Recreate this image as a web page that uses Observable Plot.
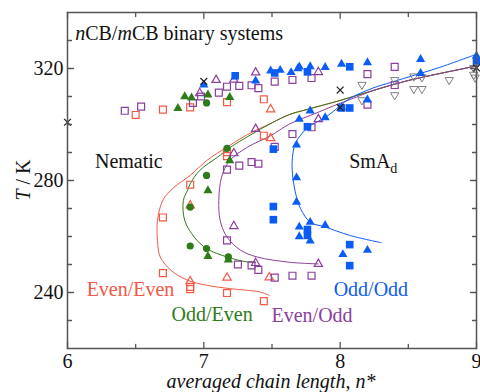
<!DOCTYPE html>
<html><head><meta charset="utf-8">
<script src="https://cdn.jsdelivr.net/npm/d3@7"></script>
<script src="https://cdn.jsdelivr.net/npm/@observablehq/plot@0.6"></script>
<style>body{margin:0;background:#fff}</style>
</head><body><div id="chart"></div>
<script>
// axes
const xDomain = [6, 9];
const yDomain = [220, 340];
const xMajor = [6, 7, 8, 9];
const xMinor = [6.5, 7.5, 8.5];
const yMajor = [240, 280, 320];
const yMinor = [230, 250, 260, 270, 290, 300, 310, 330];

// Even/Even (red)
const eeSquares = [[6.50,303.4],[6.70,305.3],[6.90,306.1],[7.17,308.0],[7.44,309.0],[7.17,290.1],[7.17,288.7],[7.44,296.0],[6.90,278.5],[6.70,266.8],[6.70,246.9],[6.90,242.0],[6.90,241.2],[7.17,239.8],[7.44,236.9]];
const eeTriangles = [[7.49,305.4],[7.49,295.1],[6.90,271.1],[6.90,244.0],[7.17,245.3],[7.48,245.4]];
// Odd/Even (green)
const oeCircles = [[7.02,307.7],[7.17,291.5],[7.02,281.8],[6.90,270.5],[6.90,256.6],[7.02,255.7],[7.18,252.7]];
const oeTriangles = [[6.81,305.8],[6.86,310.0],[6.91,309.5],[7.03,310.6],[7.19,309.7],[7.19,287.1],[7.03,276.4],[7.03,252.9],[7.18,251.7]];
// Even/Odd (purple)
const eoSquares = [[6.42,304.9],[6.54,306.4],[6.92,307.7],[6.98,310.0],[7.11,311.4],[7.17,313.5],[7.26,313.8],[7.35,314.0],[7.40,313.0],[7.52,315.3],[7.65,315.9],[7.79,316.6],[8.20,318.0],[8.40,320.6],[8.40,314.1],[8.20,307.1],[7.79,299.0],[7.65,296.6],[7.52,292.0],[7.35,286.6],[7.40,286.0],[7.26,285.3],[7.17,283.9],[7.17,258.6],[7.25,250.0],[7.35,249.7],[7.40,248.1],[7.52,245.3],[7.65,246.0],[7.79,246.0]];
const eoTriangles = [[6.97,311.2],[7.09,315.9],[7.22,316.0],[7.38,318.6],[7.84,318.7],[7.38,298.4],[7.22,289.7],[7.22,263.7],[7.38,250.5],[7.84,250.2],[7.84,301.9]];
// Odd/Odd (blue)
const ooTriangles = [[7.00,314.2],[7.38,315.6],[7.49,319.2],[7.56,319.4],[7.64,318.6],[7.69,320.0],[7.70,320.6],[7.78,320.7],[7.89,320.4],[8.01,321.6],[8.20,322.1],[8.59,323.3],[8.59,318.3],[8.20,308.8],[8.01,306.1],[7.78,304.9],[7.70,301.9],[7.89,302.5],[7.68,292.7],[7.68,281.0],[7.68,272.3],[7.70,263.4],[7.78,265.1],[7.89,264.0],[7.70,260.0],[7.78,258.4],[8.02,253.6],[8.20,255.1],[9.00,324.5]];
const ooSquares = [[7.23,317.4],[7.52,318.4],[7.76,318.8],[8.07,320.6],[8.01,305.9],[8.07,305.9],[7.76,299.2],[7.51,291.2],[7.51,270.7],[7.51,266.0],[7.76,262.5],[7.76,260.4],[8.07,257.1],[8.07,249.6],[9.00,322.7]];
// other systems
const grayDown = [[8.16,314.2],[8.16,308.7],[8.40,310.5],[8.40,315.9],[8.54,317.2],[8.60,316.9],[8.54,312.7],[8.60,312.7],[8.80,315.9],[8.98,317.8],[8.99,316.8],[8.98,320.2]];
const crosses = [[6.00,300.8],[7.00,315.4],[8.00,312.3],[8.00,306.1],[9.00,320.2]];

// fitted curves
const upperBranch = [[7.50,300.6],[7.63,303.6],[7.76,305.4],[8.0,308.6],[8.24,312.1],[8.49,315.6],[8.73,318.2],[8.98,320.7]];
const eeCurve = [[7.48,239.0],[7.41,240.2],[7.19,241.4],[7.02,242.6],[6.88,244.4],[6.76,247.9],[6.68,252.7],[6.66,258.6],[6.66,265.7],[6.70,273.0],[6.78,277.5],[6.90,281.8],[7.02,287.1],[7.17,291.9],[7.32,296.4]].concat(upperBranch);
const oeCurve = [[7.38,250.8],[7.32,250.9],[7.17,252.7],[7.02,255.7],[6.93,259.8],[6.86,265.7],[6.85,272.9],[6.88,276.4],[6.90,278.8],[6.97,283.6],[7.10,288.3],[7.19,291.7],[7.34,296.2]].concat(upperBranch);
const eoCurve = [[7.84,250.2],[7.63,250.8],[7.39,252.7],[7.27,255.1],[7.17,259.8],[7.12,265.7],[7.11,272.9],[7.13,281.2],[7.19,287.1],[7.32,291.9],[7.49,296.0],[7.63,300.2],[7.83,304.2],[8.0,307.6],[8.12,309.8],[8.24,312.1],[8.49,315.6],[8.73,318.2],[8.98,320.7]];
const ooCurve = [[8.30,257.8],[8.07,260.4],[7.89,263.4],[7.78,265.1],[7.71,269.9],[7.68,274.0],[7.65,282.4],[7.65,288.3],[7.67,293.1],[7.71,296.2],[7.77,299.2],[7.90,302.8],[8.0,306.7],[8.07,309.3],[8.24,313.0],[8.37,315.0],[8.49,316.8],[8.73,320.4],[9.0,325.1]];

const RED = "#f05a46", GREEN = "#2e7b1a", PURPLE = "#8b3f9d", BLUE = "#0b5cf5", GRAY = "#808080", FRAME = "#555";
const FONT = "'Liberation Serif', 'DejaVu Serif', serif";

const triangleDown = {draw(ctx, size) {
  const y = -Math.sqrt(size / (Math.sqrt(3) * 3));
  ctx.moveTo(0, -y * 2);
  ctx.lineTo(-Math.sqrt(3) * y, y);
  ctx.lineTo(Math.sqrt(3) * y, y);
  ctx.closePath();
}};
const tickShape = {draw(ctx, l) { ctx.moveTo(0, 0); ctx.lineTo(0, -l); }};

const tickMarks = (vals, ch, anchor, rotate, len) =>
  Plot.vector(vals, {[ch]: d => d, frameAnchor: anchor, rotate, length: len, anchor: "start", shape: tickShape, stroke: FRAME, strokeWidth: 1.3});

const curve = (data, color) => Plot.line(data, {x: d => d[0], y: d => d[1], stroke: color, strokeWidth: 1, curve: "catmull-rom"});
const pts = (data, o) => Plot.dot(data, {x: d => d[0], y: d => d[1], ...o});

const chart = Plot.plot({
  width: 480, height: 392,
  marginLeft: 67, marginRight: 4, marginTop: 12, marginBottom: 44,
  style: {fontFamily: FONT, fontSize: "20px", color: "#111", background: "#fff"},
  x: {domain: xDomain, label: null},
  y: {domain: yDomain, label: null},
  marks: [
    curve(eeCurve, RED), curve(oeCurve, GREEN), curve(eoCurve, PURPLE), curve(ooCurve, BLUE),
    pts(eeSquares, {symbol: "square", r: 3.9, stroke: RED, fill: "none", strokeWidth: 1.2}),
    pts(eeTriangles, {symbol: "triangle", r: 3.1, stroke: RED, fill: "none", strokeWidth: 1.2}),
    pts(eoSquares, {symbol: "square", r: 3.9, stroke: PURPLE, fill: "none", strokeWidth: 1.2}),
    pts(eoTriangles, {symbol: "triangle", r: 3.1, stroke: PURPLE, fill: "none", strokeWidth: 1.2}),
    pts(grayDown, {symbol: triangleDown, r: 3.1, stroke: GRAY, fill: "none", strokeWidth: 1}),
    pts(oeCircles, {symbol: "circle", r: 3.6, fill: GREEN}),
    pts(oeTriangles, {symbol: "triangle", r: 3.4, fill: GREEN}),
    pts(ooTriangles, {symbol: "triangle", r: 3.4, fill: BLUE}),
    pts(ooSquares, {symbol: "square", r: 4.3, fill: BLUE}),
    pts(crosses, {symbol: "times", r: 3.2, stroke: "#222", strokeWidth: 1.2}),
    Plot.frame({stroke: FRAME, strokeWidth: 1.5}),
    tickMarks(yMajor, "y", "left", 90, 6), tickMarks(yMinor, "y", "left", 90, 4),
    tickMarks(yMajor, "y", "right", -90, 6), tickMarks(yMinor, "y", "right", -90, 4),
    tickMarks(xMajor, "x", "bottom", 0, 6), tickMarks(xMinor, "x", "bottom", 0, 4),
    tickMarks(xMajor, "x", "top", 180, 6), tickMarks(xMinor, "x", "top", 180, 4),
    Plot.axisY({ticks: yMajor, tickFormat: d => String(d), tickSize: 0, tickPadding: 4, fontSize: 20, fontFamily: FONT, fill: "#111"}),
    Plot.axisX({ticks: xMajor, tickFormat: d => String(d), tickSize: 0, tickPadding: 5, fontSize: 20, fontFamily: FONT, fill: "#111"})
  ]
});
document.getElementById("chart").appendChild(chart);

// annotations
const sx = chart.scale("x"), sy = chart.scale("y");
const svg = d3.select(chart);
const g = svg.append("g").attr("font-family", FONT).attr("font-size", 20);
function label(x, y, parts, color, anchor = "start") {
  const t = g.append("text").attr("x", sx.apply(x)).attr("y", sy.apply(y)).attr("fill", color).attr("text-anchor", anchor);
  parts.forEach(p => {
    const s = t.append("tspan").text(p.t);
    if (p.i) s.attr("font-style", "italic");
    if (p.sub) s.attr("font-size", 14).attr("dy", 5);
  });
  return t;
}
label(6.06, 329.9, [{t: "n", i: 1}, {t: "CB/"}, {t: "m", i: 1}, {t: "CB binary systems"}], "#111");
label(6.205, 284.2, [{t: "Nematic"}], "#111");
label(8.07, 284.3, [{t: "SmA"}, {t: "d", sub: 1}], "#111");
label(6.144, 238.4, [{t: "Even/Even"}], RED);
label(6.767, 229.5, [{t: "Odd/Even"}], GREEN);
label(7.50, 229.3, [{t: "Even/Odd"}], PURPLE);
label(7.956, 238.4, [{t: "Odd/Odd"}], BLUE);
// axis titles
g.append("text").attr("x", 271).attr("y", 388).attr("text-anchor", "middle").attr("font-style", "italic").attr("fill", "#111")
  .text("averaged chain length, n*");
const yl = g.append("text").attr("transform", "translate(30,180) rotate(-90)").attr("text-anchor", "middle").attr("fill", "#111");
yl.append("tspan").attr("font-style", "italic").text("T");
yl.append("tspan").text(" / K");
</script></body></html>
